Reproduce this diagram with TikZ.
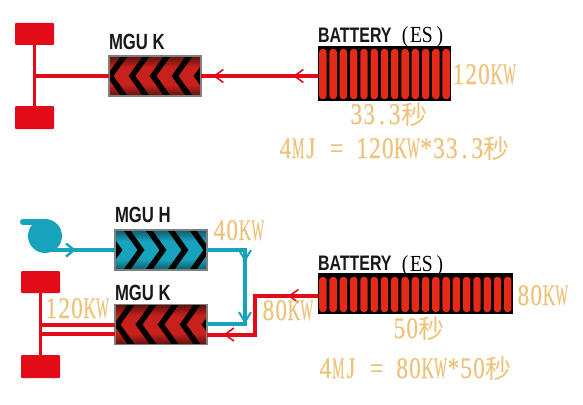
\documentclass[tikz,border=0pt]{standalone}
\usepackage{fontspec}
\usepackage{graphicx}
\usetikzlibrary{arrows.meta,decorations.markings}
\newfontfamily\labfont[FakeStretch=0.78,FakeBold=0.25]{Liberation Serif}
\newfontfamily\blackfont[FakeStretch=0.85]{Liberation Serif}
\newfontfamily\headfont[FakeStretch=0.76]{Liberation Sans Bold}
\newfontfamily\cjkfont{Noto Sans CJK SC}
\definecolor{wred}{HTML}{E30B17}
\definecolor{cellred}{HTML}{E52A1A}
\definecolor{teal1}{HTML}{17A3BC}
\definecolor{lab}{HTML}{EFC27A}
\definecolor{dkred}{HTML}{5A120E}
\definecolor{midred}{HTML}{C8201C}
\definecolor{dkteal}{HTML}{0E5A68}
\newcommand{\miao}{{\cjkfont\fontsize{26}{26}\selectfont 秒}}
\newcommand{\Kk}{\scalebox{0.75}[1]{K}}
\newcommand{\Ww}{\scalebox{0.58}[1]{W}}
\newcommand{\Mm}{\scalebox{0.6}[1]{M}}
\makeatletter
\newcommand{\mono}[1]{\@tfor\mchar:=#1\do{\makebox[12.8pt][c]{\mchar}}}
\makeatother
\newcommand{\esl}{\makebox[8pt][c]{(}\hspace{1pt}ES\hspace{4pt}\makebox[6pt][c]{)}}
\tikzset{
  wheel/.style={rectangle,fill=wred,rounded corners=1pt,minimum width=39pt,minimum height=22pt,inner sep=0pt,outer sep=0pt},
  motor/.style={rectangle,draw=black!50,line width=1.1pt,minimum width=92pt,minimum height=40pt,inner sep=0pt,outer sep=0pt},
  batt/.style={rectangle,fill=black,inner sep=0pt,outer sep=0pt},
  lbl/.style={text=lab,anchor=base west,inner sep=0pt,outer sep=0pt,font=\labfont\fontsize{30}{30}\selectfont},
  head/.style={text=black!90,anchor=base west,inner sep=0pt,outer sep=0pt,font=\headfont\fontsize{22}{22}\selectfont},
  headb/.style={head,font=\headfont\fontsize{21}{21}\selectfont},
  es/.style={text=black,anchor=base west,inner sep=0pt,outer sep=0pt,font=\blackfont\fontsize{23}{23}\selectfont},
  redline/.style={draw=wred,line width=4pt},
  axle/.style={draw=wred,line width=3.2pt},
  tealline/.style={draw=teal1,line width=4pt},
  barbs/.style 2 args={postaction={decorate,decoration={markings,
     mark=at position #1pt with {\arrow[wred,line width=1.6pt]{Straight Barb[length=9pt,width=13pt]}},
     mark=at position #2pt with {\arrow[wred,line width=1.6pt]{Straight Barb[length=9pt,width=13pt]}}}}},
  tbarbs/.style 2 args={postaction={decorate,decoration={markings,
     mark=at position #1pt with {\arrow[teal1,line width=2pt]{Straight Barb[length=10pt,width=12pt]}},
     mark=at position #2pt with {\arrow[teal1,line width=2pt]{Straight Barb[length=10pt,width=12pt]}}}}},
  tbarb/.style={postaction={decorate,decoration={markings,
     mark=at position #1pt with {\arrow[teal1,line width=2.4pt]{Straight Barb[length=8pt,width=13pt]}}}}},
}
% x, y = centre of motor; #3 colour; #4 dark colour; #5 = direction (+1 points right, -1 left); #6 tip list
\newcommand{\motorfill}[6]{%
  \begin{scope}
    \clip (#1-46,#2-20) rectangle (#1+46,#2+20);
    \fill[#3] (#1-46,#2-20) rectangle (#1+46,#2+20);
    \shade[top color=#4,bottom color=#3] (#1-46,#2-20) rectangle (#1+46,#2-9);
    \shade[top color=#3,bottom color=#4] (#1-46,#2+9) rectangle (#1+46,#2+20);
    \foreach \t in {#6}{
      \draw[black,line width=5.6pt,miter limit=10] (\t-#5*15,#2-21) -- (\t,#2) -- (\t-#5*15,#2+21);
    }
  \end{scope}}
\newcommand{\cells}[4]{%
  \foreach \i in {1,...,#3}{
    \fill[cellred,rounded corners=3pt] (#1+1.2+\i*10.27-10.27,#2) rectangle ++(7.4,#4);
  }}
\begin{document}
\begin{tikzpicture}[x=1pt,y=-1pt]
\useasboundingbox[fill=white] (0,0) rectangle (583,404);

% ---------- top diagram
\node[wheel] (wt1) at (34.5,34) {};
\node[wheel,minimum height=23pt] (wb1) at (34.5,117.5) {};
\motorfill{155}{76}{midred}{dkred}{-1}{110,132,153,175,197}
\node[motor] (k1) at (155,76) {};
\node[batt,minimum width=133pt,minimum height=55pt] (b1) at (384.5,73.5) {};
\cells{318}{49}{13}{50}
\draw[axle] (wt1.south) -- (wb1.north);
\draw[redline] (k1.west) -- (k1.west -| wt1.south);
\draw[redline,barbs={25}{105}] (b1.west |- k1.east) -- (k1.east);

\node[head] (tk1) at (109,50) {MGU K};
\node[headb] (tb1) at (318,42) {BATTERY};
\node[es] (te1) at (401,43) {\esl};
\node[lbl] (l1) at (452,84) {\mono{120\Kk\Ww}};
\node[lbl] (l2) at (350,124) {\mono{33.3}\miao};
\node[lbl] (l3) at (279,158) {\mono{4\Mm J~=~120\Kk\Ww*33.3}\miao};

% ---------- bottom diagram
\node[wheel] (wt2) at (40.5,282) {};
\node[wheel,minimum height=23pt] (wb2) at (40.5,366.5) {};
\motorfill{161}{250}{teal1}{dkteal}{1}{119,141,163,185,207}
\motorfill{161}{324.5}{midred}{dkred}{-1}{117,139,161,183,205}
\node[motor] (h) at (161,250) {};
\node[motor] (k2) at (161,324.5) {};
\node[batt,minimum width=195pt,minimum height=41pt] (b2) at (415.5,293.5) {};
\cells{318}{277}{19}{35}

% turbine
\node[circle,fill=teal1,minimum size=34pt,inner sep=0pt] (turbo) at (45,236) {};
\coordinate (tailA) at (23,222);
\coordinate (tailB) at (46,222);
\coordinate (turboout) at (48,250);
\draw[teal1,line width=6pt,line cap=round] (tailA) -- (tailB);
\draw[tealline,tbarb=28] (turboout) -- (h.west);

\coordinate (k2a) at (115,325);
\coordinate (k2b) at (115,334);
\coordinate (k2c) at (207,324);
\coordinate (k2d) at (207,334.5);
\coordinate (bend1) at (245,250);
\coordinate (bend2) at (245,324);
\coordinate (bend3) at (255,296);
\coordinate (bend4) at (255,334.5);
\coordinate (bin) at (318,296);

\draw[axle] (wt2.south) -- (wb2.north);
\draw[axle] (k2a) -- (k2a -| wt2.south);
\draw[axle] (k2b) -- (k2b -| wt2.south);
\draw[tealline,tbarbs={50}{112},line join=miter] (h.east) -- (bend1) -- (bend2) -- (k2c);
\draw[redline,line join=miter,barbs={30}{133}] (bin) -- (bend3) -- (bend4) -- (k2d);

\node[head] (th) at (115,222) {MGU H};
\node[head] (tk2) at (115,300) {MGU K};
\node[headb] (tb2) at (318,270) {BATTERY};
\node[es] (te2) at (401,271) {\esl};
\node[lbl] (l4) at (213,240) {\mono{40\Kk\Ww}};
\node[lbl] (l5) at (45,318) {\mono{120\Kk\Ww}};
\node[lbl] (l6) at (262,320) {\mono{80\Kk\Ww}};
\node[lbl] (l7) at (517,305) {\mono{80\Kk\Ww}};
\node[lbl] (l8) at (393,338) {\mono{50}\miao};
\node[lbl] (l9) at (319,378) {\mono{4\Mm J~=~80\Kk\Ww*50}\miao};
\end{tikzpicture}
\end{document}
